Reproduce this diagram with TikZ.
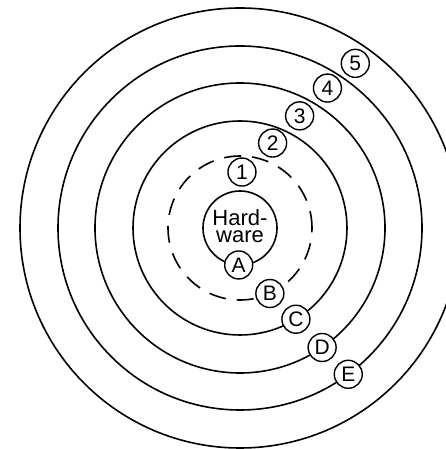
\documentclass[tikz,border=0pt]{standalone}
\usepackage{fontspec}
\setmainfont{Liberation Sans}
\usetikzlibrary{calc}
\tikzset{
  ring/.style={line width=1.6pt},
  tag/.style={circle, draw, line width=1.4pt, fill=white, minimum size=28pt,
    inner sep=0pt, font=\fontsize{21}{21}\selectfont},
}
\begin{document}
\begin{tikzpicture}[x=1pt, y=1pt]
  \useasboundingbox (0,0) rectangle (446,449);
  \clip (0,0) rectangle (446,449);
  \coordinate (c) at (240,221);

  % layers round the hardware
  \draw[ring] (c) circle (220);
  \draw[ring] (c) circle (182);
  \draw[ring] (c) circle (145);
  \draw[ring] (c) circle (107);
  \draw[ring, dash pattern=on 17pt off 11pt] (c) circle (72);
  \draw[ring] (c) circle (37);
  \node[align=center, inner sep=0pt, font=\fontsize{22}{17}\selectfont]
    (hw) at ($(c)+(0,2)$) {Hard-\\ware};

  % numbered layers
  \node[tag] (n1) at ($(c)+(88:56)$) {1};
  \node[tag] (n2) at ($(c)+(69:91)$) {2};
  \node[tag] (n3) at ($(c)+(62:127)$) {3};
  \node[tag] (n4) at ($(c)+(58:165)$) {4};
  \node[tag] (n5) at ($(c)+(55:201)$) {5};

  % lettered boundaries
  \node[tag] (a) at ($(c)+(-92:37)$) {A};
  \node[tag] (b) at ($(c)+(-65.5:72)$) {B};
  \node[tag] (cc) at ($(c)+(-58.5:107)$) {C};
  \node[tag] (d) at ($(c)+(-55.5:145)$) {D};
  \node[tag] (e) at ($(c)+(-53.5:182)$) {E};
\end{tikzpicture}
\end{document}
